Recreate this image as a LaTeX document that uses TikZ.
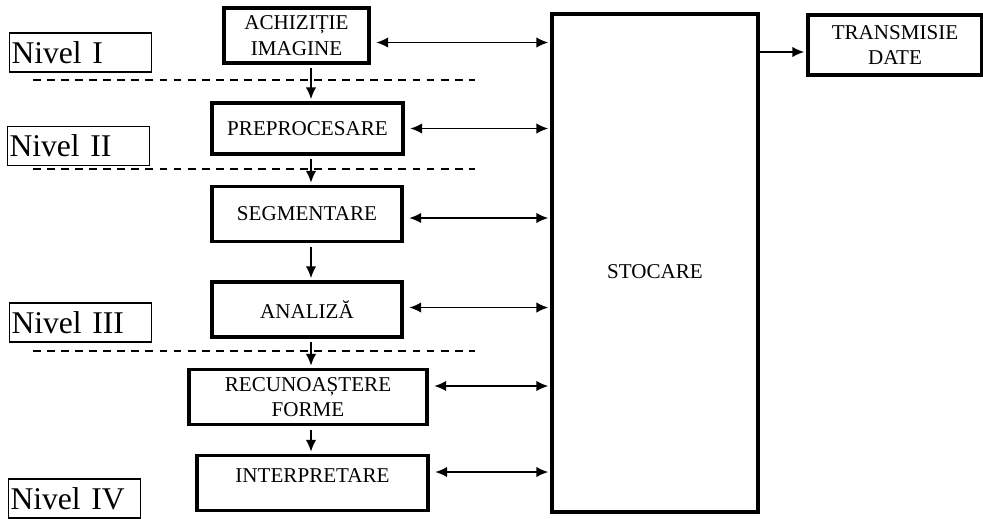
\documentclass[tikz,border=0pt]{standalone}
\usepackage{fontspec}
\setmainfont{Liberation Serif}
\usetikzlibrary{arrows.meta}

\begin{document}
\begin{tikzpicture}[x=0.02cm, y=-0.02cm, every node/.style={draw,rectangle,align=center,font=\fontsize{12}{14.5}\selectfont}]
	\tikzset{proc/.style={line width=2.2pt, minimum height=1.1cm, inner sep=1pt}}
	\tikzset{level/.style={line width=0.6pt, minimum height=0.78cm, inner xsep=1pt, align=left, font=\fontsize{18}{20}\selectfont}}
	\tikzset{flow/.style={line width=1pt, -{Latex[length=2.4mm,width=2.1mm]}, shorten <=2pt, shorten >=1pt}}
	\tikzset{link/.style={line width=1pt, {Latex[length=2.4mm,width=2.1mm]}-{Latex[length=2.4mm,width=2.1mm]}, shorten <=3pt, shorten >=1pt}}
	\tikzset{sep/.style={line width=0.8pt, dash pattern=on 4.5pt off 3.5pt}}
	\useasboundingbox (0,0) rectangle (983,518);
	\node[level, text width=2.76cm] (n1) at (80.5,52.5) {Nivel I};
	\node[level, text width=2.76cm] (n2) at (78.5,146)  {Nivel II};
	\node[level, text width=2.76cm] (n3) at (80.5,322.5) {Nivel III};
	\node[level, text width=2.56cm] (n4) at (74.5,498.5) {Nivel IV};
	\node[proc, minimum width=2.9cm]  (achiz)   at (296.5,35.5) {ACHIZIȚIE\\IMAGINE};
	\node[proc, minimum width=3.82cm, minimum height=1.02cm] (preproc) at (307.5,128.5) {PREPROCESARE};
	\node[proc, minimum width=3.8cm]  (segm)    at (307,214)    {SEGMENTARE};
	\node[proc, minimum width=3.8cm]  (analiza) at (307,309.5)  {ANALIZĂ};
	\node[proc, minimum width=4.76cm] (recun)   at (308,397)    {RECUNOAȘTERE\\FORME};
	\node[proc, minimum width=4.62cm, text depth=9pt] (interp) at (312.5,483) {INTERPRETARE};
	\node[proc, minimum width=4.12cm, minimum height=9.96cm, text height=18pt] (stocare) at (655,263) {STOCARE};
	\node[proc, minimum width=3.48cm, minimum height=1.2cm] (transm) at (895,45) {TRANSMISIE\\DATE};
	\coordinate (col) at (311,0);
	\foreach \y in {80,169,351}
	\draw[sep] (33,\y) -- (475,\y);
	\foreach \from/\to in {
		achiz/preproc, preproc/segm, segm/analiza,
		analiza/recun, recun/interp}
	\draw[flow] (\from.south -| col) -- (\to.north -| col);
	\foreach \from/\dy in {
		achiz/-0.14cm, preproc/0cm, segm/-0.08cm,
		analiza/0.04cm, recun/0.22cm, interp/0.22cm}
	\draw[link] ([yshift=\dy]\from.east) -- ([yshift=\dy]\from.east -| stocare.west);
	\draw[flow, shorten <=0pt] ([yshift=-0.14cm]transm.west -| stocare.east) -- ([yshift=-0.14cm]transm.west);
\end{tikzpicture}
\end{document}
